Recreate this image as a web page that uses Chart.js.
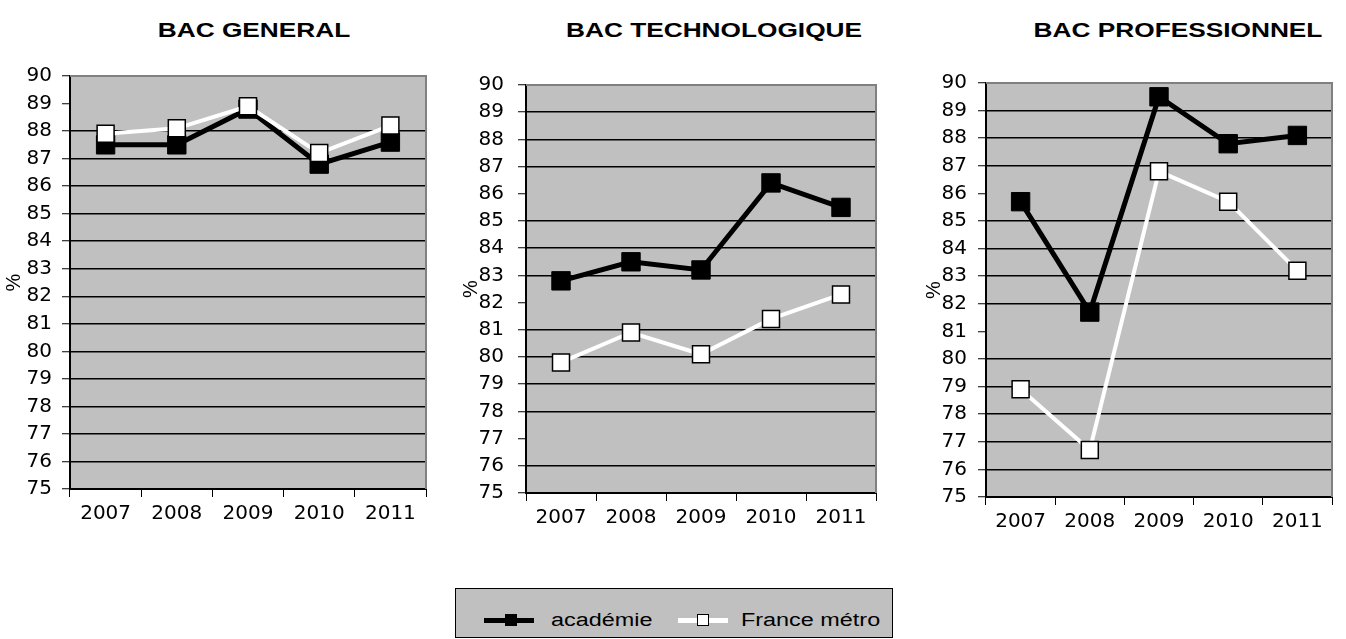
<!DOCTYPE html>
<html>
<head>
<meta charset="utf-8">
<script src="https://cdn.jsdelivr.net/npm/chart.js@4"></script>
<style>
  body { margin: 0; width: 1346px; height: 639px; background: #fff; position: relative; overflow: hidden; }
  .box { position: absolute; top: 0; height: 560px; width: 440px; }
  .title {
    position: absolute; top: 19px; font: bold 21px "Liberation Sans", Arial, sans-serif;
    line-height: 21px; white-space: nowrap; transform: translateX(-50%) scaleX(1.25);
  }
  #legend {
    position: absolute; left: 455px; top: 588px; width: 436px; height: 48px;
    border: 1px solid #000; background: #c0c0c0;
  }
  #legend div { position: absolute; }
  .ltext {
    font: 18px "Liberation Sans", Arial, sans-serif; line-height: 18px; white-space: nowrap;
    transform: scaleX(1.3); transform-origin: left center;
  }
</style>
</head>
<body>

<div class="title" style="left:254px">BAC GENERAL</div>
<div class="title" style="left:714px">BAC TECHNOLOGIQUE</div>
<div class="title" style="left:1178px">BAC PROFESSIONNEL</div>

<div class="box" style="left:0px"><canvas id="chartGeneral"></canvas></div>
<div class="box" style="left:450px"><canvas id="chartTechno"></canvas></div>
<div class="box" style="left:906px"><canvas id="chartPro"></canvas></div>

<div id="legend">
  <div style="left:28px; top:29px; width:50px; height:5px; background:#000"></div>
  <div style="left:49px; top:25px; width:12px; height:12px; background:#000"></div>
  <div class="ltext" style="left:95px; top:22px">académie</div>
  <div style="left:222px; top:29px; width:50px; height:5px; background:#fff"></div>
  <div style="left:241px; top:25px; width:10px; height:10px; background:#fff; border:1px solid #000"></div>
  <div class="ltext" style="left:285px; top:22px">France métro</div>
</div>

<script>
// ============ DATA ============

const years = ["2007", "2008", "2009", "2010", "2011"];
const yMin = 75;
const yMax = 90;

const generalAcademie = [87.5, 87.5, 88.8, 86.8, 87.6];
const generalFrance = [87.9, 88.1, 88.9, 87.2, 88.2];

const technoAcademie = [82.8, 83.5, 83.2, 86.4, 85.5];
const technoFrance = [79.8, 80.9, 80.1, 81.4, 82.3];

const proAcademie = [85.7, 81.7, 89.5, 87.8, 88.1];
const proFrance = [78.9, 76.7, 86.8, 85.7, 83.2];

// ============ HELPERS ============

const TICK_FONT = { family: "'DejaVu Sans', sans-serif", size: 20 };

// grey plot area + grey top/right frame
const plotArea = {
    id: "plotArea",
    beforeDraw(chart) {
        const { ctx, chartArea: a } = chart;
        ctx.save();
        ctx.fillStyle = "#c0c0c0";
        ctx.fillRect(a.left, a.top, a.right - a.left, a.bottom - a.top);
        ctx.restore();
    },
    afterDatasetsDraw(chart) {
        const { ctx, chartArea: a } = chart;
        ctx.save();
        ctx.strokeStyle = "#808080";
        ctx.lineWidth = 2;
        ctx.beginPath();
        ctx.moveTo(a.left, a.top);
        ctx.lineTo(a.right, a.top);
        ctx.lineTo(a.right, a.bottom);
        ctx.stroke();
        ctx.restore();
    }
};

function makeChart(id, academie, france, cfg) {
    const ctx = document.getElementById(id).getContext("2d");
    return new Chart(ctx, {
        type: "line",
        data: {
            labels: years,
            datasets: [
                {
                    label: "France métro",
                    data: france,
                    borderColor: "#ffffff",
                    borderWidth: 4,
                    pointStyle: "rect",
                    pointRadius: 12,
                    pointBackgroundColor: "#ffffff",
                    pointBorderColor: "#000000",
                    pointBorderWidth: 1.5,
                    tension: 0
                },
                {
                    label: "académie",
                    data: academie,
                    borderColor: "#000000",
                    borderWidth: 5,
                    pointStyle: "rect",
                    pointRadius: 13,
                    pointBackgroundColor: "#000000",
                    pointBorderColor: "#000000",
                    pointBorderWidth: 1,
                    tension: 0
                }
            ]
        },
        options: {
            responsive: true,
            maintainAspectRatio: false,
            animation: false,
            layout: { padding: { top: cfg.top, right: cfg.right, left: 0, bottom: 0 } },
            plugins: {
                legend: { display: false },
                tooltip: { enabled: false }
            },
            scales: {
                x: {
                    offset: true,
                    afterFit: s => { s.height = cfg.xHeight; },
                    grid: {
                        offset: true,
                        drawOnChartArea: false,
                        drawTicks: true,
                        tickLength: 8,
                        tickColor: "#000"
                    },
                    border: { display: true, color: "#000", width: 2 },
                    ticks: { color: "#000", font: TICK_FONT, padding: 5, maxRotation: 0 }
                },
                y: {
                    min: yMin,
                    max: yMax,
                    afterFit: s => { s.width = cfg.yWidth; },
                    grid: {
                        color: c => {
                            const v = c.tick && c.tick.value;
                            if (v === yMax) return "#808080";
                            if (v === yMin || cfg.missing.includes(v)) return "rgba(0,0,0,0)";
                            return "#000";
                        },
                        lineWidth: 1.5,
                        tickLength: 8,
                        tickColor: "#000",
                        tickWidth: 1
                    },
                    border: { display: true, color: "#000", width: 2 },
                    ticks: { stepSize: 1, color: "#000", font: TICK_FONT, padding: cfg.tickPad },
                    title: {
                        display: true,
                        text: "%",
                        color: "#000",
                        font: { family: "'Liberation Sans', Arial, sans-serif", size: 20 },
                        padding: { top: cfg.titlePad, bottom: 0 }
                    }
                }
            }
        },
        plugins: [plotArea]
    });
}

// ============ CHARTS ============

makeChart("chartGeneral", generalAcademie, generalFrance,
    { top: 76, right: 12, xHeight: 71, yWidth: 70, tickPad: 10, titlePad: 2, missing: [89] });

makeChart("chartTechno", technoAcademie, technoFrance,
    { top: 85, right: 13, xHeight: 67, yWidth: 76, tickPad: 14, titlePad: 9, missing: [86, 82, 77] });

makeChart("chartPro", proAcademie, proFrance,
    { top: 83, right: 2, xHeight: 63, yWidth: 80, tickPad: 11, titlePad: 16, missing: [86, 81] });
</script>
</body>
</html>
